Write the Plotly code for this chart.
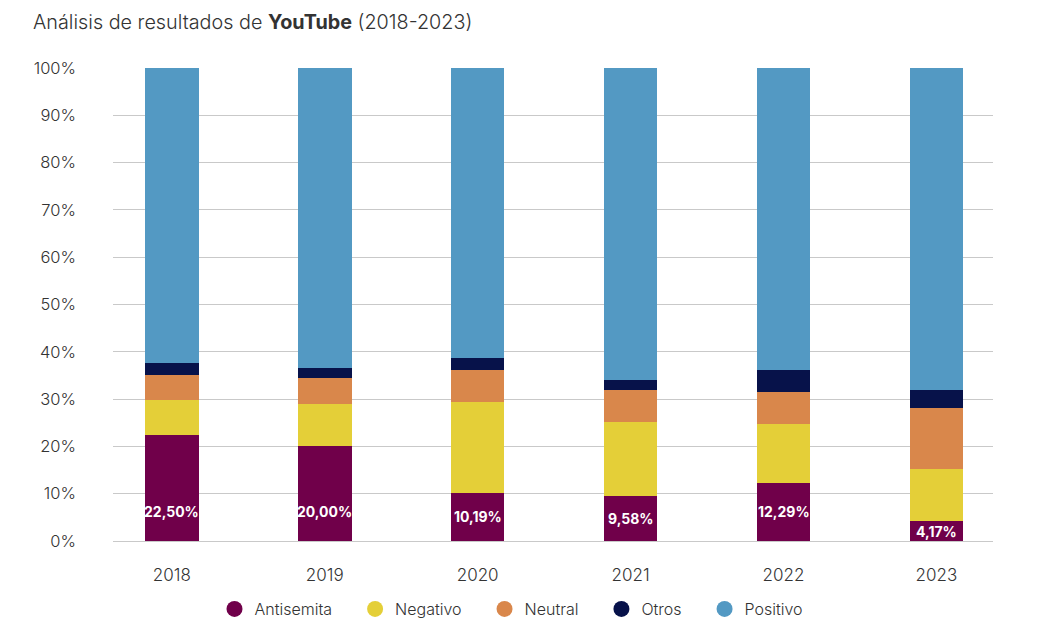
import plotly.graph_objects as go

years = ["2018", "2019", "2020", "2021", "2022", "2023"]
antisemita = [22.50, 20.00, 10.19, 9.58, 12.29, 4.17]
negativo = [7.4, 9.0, 19.2, 15.5, 12.4, 11.0]
neutral = [5.2, 5.4, 6.7, 6.8, 6.8, 12.9]
otros = [2.6, 2.1, 2.6, 2.1, 4.6, 3.8]
positivo = [round(100 - a - b - c - d, 2) for a, b, c, d in zip(antisemita, negativo, neutral, otros)]
labels = ["22,50%", "20,00%", "10,19%", "9,58%", "12,29%", "4,17%"]

series = [
    ("Antisemita", antisemita, "#70004a"),
    ("Negativo", negativo, "#e4cf38"),
    ("Neutral", neutral, "#d9874b"),
    ("Otros", otros, "#07124a"),
    ("Positivo", positivo, "#5399c3"),
]

FONT = "Inter"
PAD = "\u00a0" * 4
fig = go.Figure()
xs = list(range(len(years)))
for name, vals, col in series:
    fig.add_trace(go.Bar(x=xs, y=vals, name=name, marker=dict(color=col, line=dict(width=0)),
                         width=0.35, showlegend=False, hoverinfo="skip"))
for name, vals, col in series:
    fig.add_trace(go.Scatter(x=[None], y=[None], mode="markers", name=name + PAD,
                             marker=dict(symbol="circle", size=20, color=col)))

for i, (v, t) in enumerate(zip(antisemita, labels)):
    fig.add_annotation(x=i, y=min(6.3, v / 2), text="<b>" + t + "</b>", showarrow=False,
                       font=dict(family=FONT, size=14, color="white"), yanchor="middle")

fig.update_layout(
    width=1041, height=633, barmode="stack",
    margin=dict(l=113, r=48, t=68, b=92, autoexpand=False),
    paper_bgcolor="white", plot_bgcolor="white",
    font=dict(family=FONT, color="#333333", size=16, weight=300),
    title=dict(text="Análisis de resultados de <b>YouTube</b> (2018-2023)",
               x=33 / 1041, xref="container", xanchor="left",
               y=1 - 22 / 633, yref="container", yanchor="middle",
               font=dict(family=FONT, size=19.8, color="#333333", weight=300)),
    xaxis=dict(tickmode="array", tickvals=xs, ticktext=years, range=[-0.385, 5.37],
               showgrid=False, showline=False, zeroline=False, ticks="",
               tickfont=dict(size=17, color="#333333", weight=300), ticklabelstandoff=22),
    yaxis=dict(range=[0, 100], tickvals=list(range(0, 101, 10)),
               ticktext=[f"{v}%" for v in range(0, 101, 10)],
               showgrid=True, gridcolor="#c9c9c9", gridwidth=1, zeroline=True,
               zerolinecolor="#c9c9c9", zerolinewidth=1, ticks="",
               tickfont=dict(size=16.5, color="#333333", weight=300), ticklabelstandoff=36),
    legend=dict(orientation="h", x=0.5, xref="container", xanchor="center",
                y=1 - 609 / 633, yref="container", yanchor="middle", traceorder="normal",
                font=dict(size=16, color="#333333", weight=300)),
)
fig.write_html("out.html")
